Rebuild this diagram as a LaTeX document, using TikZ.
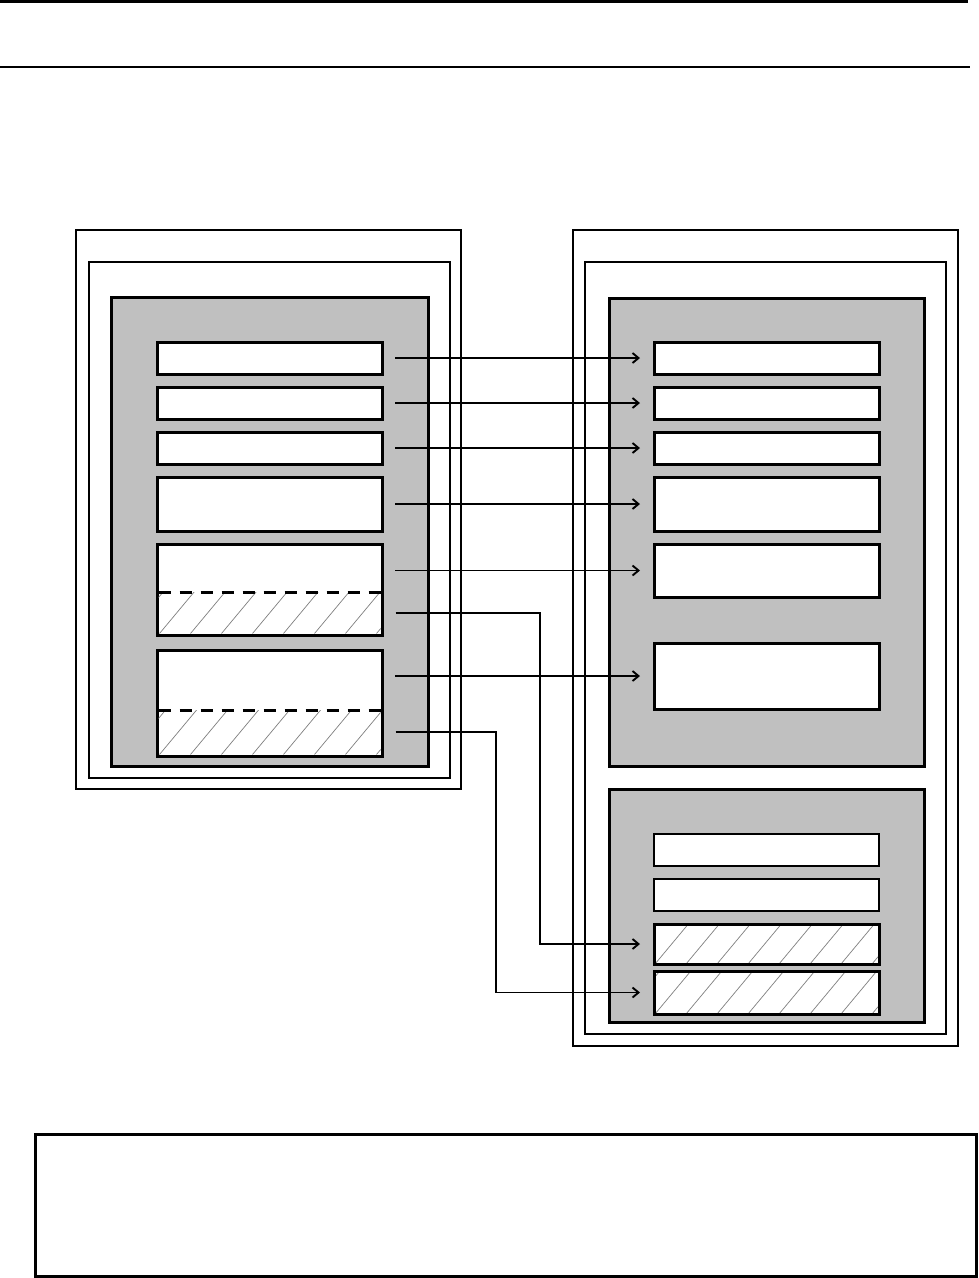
\documentclass[tikz,border=0pt]{standalone}
\usetikzlibrary{arrows.meta}
\definecolor{boxgray}{RGB}{192,192,192}
\newcommand{\bx}[6]{\node[#1, anchor=north west, minimum width={(#5-#3)*1pt}, minimum height={(#6-#4)*1pt}] (#2) at (#3,#4) {};}
\begin{document}
\begin{tikzpicture}[x=1pt,y=-1pt,
  base/.style={rectangle, inner sep=0pt, outer sep=0pt},
  outerframe/.style={base, draw, line width=1.5pt},
  midframe/.style={base, draw, line width=2pt},
  graybox/.style={base, draw, line width=3pt, fill=boxgray},
  slot/.style={base, draw, line width=3pt, fill=white},
  thinslot/.style={base, draw, line width=2pt, fill=white},
  hatched/.style={path picture={
      \foreach \i in {-1,...,8}
        \draw[gray, line width=0.7pt] ([xshift=\i*31pt+1pt]path picture bounding box.south west) -- ++(50pt,60pt);
    }},
  hatchregion/.style={base, hatched},
  divider/.style={line width=3pt, dash pattern=on 12pt off 9pt},
  arr/.style={line width=1.9pt, -{Straight Barb[length=6pt,width=10pt,line width=1.9pt]}},
  rule/.style={line width=2.5pt},
  notebox/.style={base, draw, line width=3pt}
]
\useasboundingbox (0,0) rectangle (979,1278);

% header rules
\coordinate (t1a) at (0,1.5);
\coordinate (t1b) at (968,1.5);
\coordinate (t2a) at (0,67);
\coordinate (t2b) at (970,67);
\draw[rule] (t1a) -- (t1b);
\draw[rule] (t2a) -- (t2b);

% left side
\bx{outerframe}{LO}{76}{230}{461}{789}
\bx{midframe}{LM}{89}{262}{450}{778}
\bx{graybox}{LG}{111}{297}{428}{766}
\bx{slot}{L1}{157}{342}{382}{374}
\bx{slot}{L2}{157}{387}{382}{419}
\bx{slot}{L3}{157}{432}{382}{464}
\bx{slot}{L4}{157}{477}{382}{531}
\bx{slot}{L5}{157}{544}{382}{635}
\bx{slot}{L6}{157}{650}{382}{756}
\bx{hatchregion}{H5}{158.5}{592}{380.5}{633.5}
\bx{hatchregion}{H6}{158.5}{710}{380.5}{754.5}
\draw[divider] (H5.north west) -- (H5.north east);
\draw[divider] (H6.north west) -- (H6.north east);

% right side
\bx{outerframe}{RO}{573}{230}{958}{1046}
\bx{midframe}{RM}{585}{262}{946}{1034}
\bx{graybox}{RG}{609}{298}{924}{766}
\bx{slot}{R1}{654}{342}{879}{374}
\bx{slot}{R2}{654}{387}{879}{419}
\bx{slot}{R3}{654}{432}{879}{464}
\bx{slot}{R4}{654}{477}{879}{531}
\bx{slot}{R5}{654}{544}{879}{597}
\bx{slot}{R6}{654}{643}{879}{709}
\bx{graybox}{RB}{609}{789}{924}{1022}
\bx{thinslot}{R7}{654}{834}{879}{866}
\bx{thinslot}{R8}{654}{879}{879}{911}
\bx{slot, hatched}{R9}{654}{924}{879}{964}
\bx{slot, hatched}{R10}{654}{971}{879}{1014}

% connectors
\draw[arr] ([xshift=13pt]L1.east) -- ([xshift=-14pt]R1.west);
\draw[arr] ([xshift=13pt]L2.east) -- ([xshift=-14pt]R2.west);
\draw[arr] ([xshift=13pt]L3.east) -- ([xshift=-14pt]R3.west);
\draw[arr] ([xshift=13pt]L4.east) -- ([xshift=-14pt]R4.west);
\draw[arr] ([xshift=13pt]L5.east |- R5.west) -- ([xshift=-14pt]R5.west);
\draw[arr] ([xshift=13pt]L6.east |- R6.west) -- ([xshift=-14pt]R6.west);
\coordinate (e1) at (540,0);
\coordinate (e2) at (496,0);
\draw[arr] ([xshift=15pt]H5.east) -- (e1 |- H5.east) -- (e1 |- R9.west) -- ([xshift=-14pt]R9.west);
\draw[arr] ([xshift=15pt]H6.east) -- (e2 |- H6.east) -- (e2 |- R10.west) -- ([xshift=-14pt]R10.west);

% note box
\bx{notebox}{N}{35}{1134}{976.5}{1276.5}
\end{tikzpicture}
\end{document}
